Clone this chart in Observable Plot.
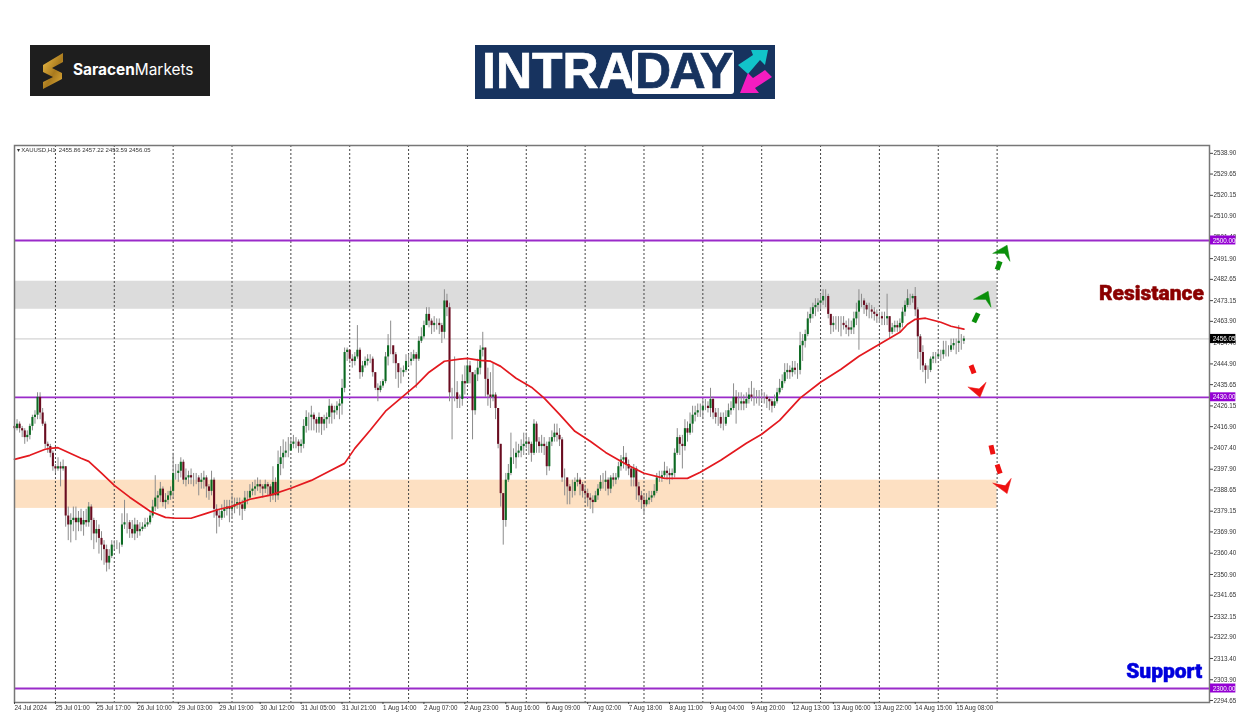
<!DOCTYPE html>
<html>
<head>
<meta charset="utf-8">
<script src="https://cdn.jsdelivr.net/npm/d3@7"></script>
<script src="https://cdn.jsdelivr.net/npm/@observablehq/plot@0.6"></script>
<style>
html,body{margin:0;padding:0;background:#fff;width:1250px;height:716px;overflow:hidden}
#chart{position:absolute;left:0;top:0;filter:blur(.3px)}
.logo{position:absolute;box-sizing:border-box}
#saracen{left:30px;top:45px;width:180px;height:51px;background:#1e1e1e;color:#fff;font:400 15.4px Inter,Lato,sans-serif}
#saracen span{position:absolute;left:43px;top:15px;white-space:nowrap}
#saracen b{font-weight:700}
#saracen svg{position:absolute;left:0;top:0}
#intraday{left:475px;top:45px;width:300px;height:54px;background:#17335f}
#intraday .a,#intraday .b{position:absolute;font:700 50px/54px "Liberation Sans",Arimo,sans-serif;white-space:nowrap;-webkit-text-stroke:.7px currentColor}
#intraday .a{left:7px;top:-1px;color:#fff}
#intraday .box{position:absolute;left:157px;top:5px;width:102px;height:44px;background:#fff;border-radius:3px}
#intraday .b{left:3px;top:-6px;color:#17335f;letter-spacing:-1.5px}
#intraday svg{position:absolute;left:0;top:0}
</style>
</head>
<body>
<div id="chart"></div>
<div id="saracen" class="logo">
  <svg width="180" height="51"><defs><linearGradient id="g" x1="0" y1="0" x2="1" y2="1"><stop offset="0" stop-color="#f0c14a"/><stop offset=".55" stop-color="#a97a1e"/><stop offset="1" stop-color="#e6b23c"/></linearGradient></defs>
  <path d="M33 8 L13 20 L13 27 L23 32 L13 37 L13 44 L32 34 L32 28 L22 23 L33 17 Z" fill="url(#g)"/></svg>
  <span><b>Saracen</b>Markets</span>
</div>
<div id="intraday" class="logo">
  <div class="a">INTRA</div>
  <div class="box"><div class="b">DAY</div></div>
  <svg width="300" height="54">
    <polygon points="263,20 278,10 276,5 293,5 290,20 285,15 273,29" fill="#12c3c9"/>
    <polygon points="297,32 290,25 278,33 273,28 265,48 284,48 280,43" fill="#f31cc0"/>
  </svg>
</div>
<script>
// ---- XAUUSD H1 candles, read bar by bar (one row per trading day)
const closes = [
2416,2418,2416,2415,2412,2413,2417,2421,2422,2430,2423,2418,2409,2408,2405,2399,
2398,2399,2398,2399,2377,2373,2375,2376,2374,2376,2373,2375,2374,2381,2375,2369,2371,2367,2364,2362,2356,2359,2364,
2364,2364,2364,2373,2374,2374,2371,2369,2373,2370,2371,2372,2373,2374,2377,2381,2385,2386,2389,2383,2384,2386,2388,
2396,2396,2397,2401,2393,2394,2395,2394,2394,2394,2392,2393,2394,2390,2388,2393,2380,2377,2376,2379,2380,2381,2380,
2381,2382,2383,2382,2380,2385,2385,2388,2389,2390,2391,2390,2389,2391,2390,2386,2392,2386,2400,2403,2405,2406,2406,
2409,2410,2410,2408,2409,2417,2421,2421,2422,2420,2418,2421,2418,2420,2421,2426,2423,2424,2426,2427,2434,2450,2451,
2447,2446,2448,2451,2441,2444,2446,2447,2447,2441,2434,2433,2435,2437,2448,2453,2453,2449,2445,2441,2441,2442,2446,
2446,2447,2449,2447,2455,2457,2462,2467,2464,2462,2463,2463,2462,2459,2473,2470,2432,2432,2432,2429,2429,2437,2436,
2444,2441,2424,2440,2443,2451,2452,2438,2431,2430,2431,2425,2409,2387,2375,2393,2396,2403,2403,2405,2406,2408,2409,
2410,2409,2405,2418,2410,2408,2409,2408,2399,2410,2412,2414,2413,2411,2394,2394,2390,2388,2388,2392,2393,2391,2388,
2387,2385,2384,2383,2386,2389,2392,2392,2393,2389,2394,2393,2394,2399,2402,2403,2400,2398,2394,2398,2390,2386,2384,
2382,2384,2385,2386,2388,2394,2394,2395,2397,2396,2395,2396,2405,2412,2409,2408,2416,2414,2418,2422,2423,2424,2424,
2426,2426,2425,2429,2423,2421,2421,2418,2418,2421,2424,2425,2430,2427,2427,2428,2427,2429,2431,2430,2430,2430,2430,
2430,2430,2429,2428,2426,2428,2432,2434,2437,2441,2442,2441,2443,2442,2442,2453,2455,2458,2465,2467,2470,2471,2472,
2473,2475,2475,2467,2462,2463,2463,2463,2463,2462,2461,2460,2461,2465,2468,2473,2473,2471,2469,2469,2468,2467,2466,
2466,2465,2465,2466,2459,2461,2462,2461,2463,2468,2471,2474,2474,2475,2469,2457,2450,2444,2442,2442,2447,2448,2448,
2449,2449,2451,2451,2451,2453,2454,2454,2455,2455,2456.05];
const highs = [
2419,2420,2419,2417,2416,2415,2418,2422,2424,2432,2432,2425,2419,2410,2409,2406,
2400,2403,2401,2402,2399,2381,2378,2381,2381,2379,2380,2379,2380,2383,2382,2376,2375,2373,2370,2366,2364,2362,2366,
2366,2366,2365,2378,2384,2378,2375,2375,2376,2375,2374,2374,2376,2376,2379,2384,2395,2388,2392,2390,2387,2388,2390,
2405,2400,2400,2403,2402,2398,2397,2398,2396,2396,2395,2396,2397,2395,2391,2397,2394,2382,2380,2382,2384,2384,2384,
2386,2385,2385,2385,2384,2388,2388,2391,2392,2393,2394,2393,2391,2393,2392,2391,2399,2394,2406,2408,2411,2410,2412,
2412,2413,2412,2411,2411,2420,2424,2423,2426,2423,2421,2423,2421,2422,2423,2429,2427,2426,2428,2429,2438,2452,2452,
2451,2449,2450,2462,2452,2446,2448,2449,2449,2448,2441,2436,2437,2438,2450,2458,2464,2452,2450,2445,2443,2444,2449,
2449,2450,2451,2450,2457,2461,2464,2470,2470,2465,2466,2465,2465,2463,2478,2476,2472,2434,2448,2437,2431,2440,2444,
2447,2446,2441,2442,2447,2453,2459,2452,2443,2441,2445,2432,2425,2409,2387,2396,2400,2414,2407,2410,2409,2411,2414,
2414,2412,2410,2420,2419,2412,2413,2412,2410,2412,2415,2418,2418,2416,2412,2398,2394,2391,2393,2394,2396,2394,2392,
2390,2389,2387,2386,2388,2391,2395,2396,2397,2394,2395,2396,2396,2401,2404,2408,2405,2402,2399,2400,2399,2392,2388,
2386,2387,2388,2388,2391,2396,2397,2397,2401,2399,2398,2398,2407,2416,2413,2413,2420,2419,2423,2426,2426,2427,2427,
2429,2429,2428,2434,2430,2425,2425,2423,2423,2424,2427,2428,2436,2433,2432,2432,2431,2432,2434,2437,2434,2433,2433,
2433,2432,2431,2430,2429,2431,2434,2438,2440,2445,2445,2444,2446,2446,2445,2459,2458,2460,2468,2470,2472,2474,2474,
2476,2478,2478,2476,2467,2466,2466,2466,2466,2466,2464,2465,2464,2468,2472,2478,2476,2474,2472,2472,2471,2470,2469,
2468,2468,2468,2476,2466,2463,2464,2464,2465,2470,2473,2478,2476,2476,2479,2470,2458,2453,2445,2444,2448,2450,2450,
2451,2451,2455,2455,2453,2456,2456,2456,2462,2458,2457.22];
const lows = [
2413,2415,2414,2412,2409,2410,2411,2415,2418,2420,2420,2417,2407,2405,2403,2397,
2396,2397,2390,2397,2372,2366,2365,2370,2366,2370,2370,2368,2372,2372,2366,2362,2365,2360,2357,2355,2352,2353,2358,
2362,2362,2360,2363,2371,2369,2367,2367,2366,2367,2368,2370,2371,2372,2373,2376,2379,2380,2383,2381,2380,2382,2384,
2385,2393,2392,2394,2391,2390,2391,2391,2390,2391,2386,2389,2389,2385,2384,2386,2376,2369,2372,2375,2376,2377,2374,
2376,2378,2380,2377,2375,2379,2382,2384,2386,2386,2388,2387,2385,2387,2386,2383,2384,2383,2384,2395,2398,2403,2403,
2407,2407,2407,2405,2405,2407,2414,2415,2415,2415,2414,2414,2413,2415,2416,2418,2418,2420,2422,2420,2422,2432,2446,
2445,2443,2444,2447,2438,2439,2443,2444,2445,2439,2433,2428,2432,2434,2436,2444,2449,2445,2438,2434,2436,2439,2441,
2444,2444,2446,2434,2446,2454,2456,2463,2461,2458,2459,2460,2458,2454,2456,2466,2428,2411,2428,2425,2425,2426,2431,
2439,2436,2411,2422,2437,2440,2448,2430,2426,2425,2428,2420,2407,2381,2364,2372,2392,2395,2400,2398,2403,2403,2404,
2407,2404,2401,2404,2405,2405,2405,2404,2395,2397,2408,2410,2410,2408,2392,2386,2382,2382,2385,2386,2390,2386,2385,
2383,2381,2380,2378,2383,2384,2388,2389,2388,2386,2387,2390,2391,2393,2397,2398,2397,2395,2390,2390,2384,2383,2380,
2378,2381,2382,2383,2385,2387,2392,2392,2394,2393,2391,2393,2394,2404,2404,2398,2406,2410,2413,2414,2419,2421,2421,
2420,2424,2423,2421,2420,2418,2417,2416,2415,2417,2421,2422,2424,2418,2424,2424,2424,2425,2427,2428,2426,2427,2426,
2428,2427,2425,2424,2423,2425,2427,2431,2433,2436,2438,2438,2439,2440,2438,2440,2446,2452,2457,2463,2465,2466,2468,
2469,2471,2470,2465,2458,2459,2460,2459,2457,2460,2458,2457,2458,2458,2462,2451,2470,2467,2466,2465,2465,2464,2463,
2463,2462,2462,2462,2456,2458,2459,2459,2459,2461,2466,2470,2471,2472,2466,2447,2442,2441,2436,2438,2441,2445,2445,
2447,2446,2447,2448,2448,2450,2451,2449,2450,2451,2453.59];
const firstOpen = 2417;

// ---- moving average: [bar, price]
const maBars = [0,6,12,14,17,20,26,29,34,39,45,53,59,63,69,75,80,85,92,100,108,116,123,129,133,139,145,151,157,162,168,174,177,182,186,190,196,202,207,213,219,225,231,239,246,254,263,268,276,286,292,299,307,315,323,330,338,346,349,352,356,362,366,371];
const maValues = [2402.3,2404.1,2406.8,2407.2,2407.5,2405.9,2402.8,2401.4,2396.1,2390.7,2385.4,2379.1,2376.4,2376,2376,2378.2,2380,2381.3,2384.5,2386.3,2389.4,2392.9,2397,2400.5,2407.2,2415.3,2423.8,2429.6,2435.4,2441.2,2446.1,2447,2447.4,2446.5,2446.1,2443.8,2438.5,2434.5,2429.6,2422.4,2414.8,2410.4,2405.4,2400.1,2396.1,2393.8,2393.8,2396.5,2401.9,2409.5,2413.5,2419.7,2429.6,2436.7,2442.5,2448.3,2453.7,2459,2462.6,2464.8,2465.3,2463.5,2461.7,2460.4];

// ---- horizontal levels and zones
const levels = [2500, 2430, 2300];
const lastPrice = 2456.05;
const zones = [
  {from: 2469.3, to: 2481.8, color: "#dcdcdc"},
  {from: 2380.4, to: 2393.0, color: "#fde0c2"}
];
const zoneEndBar = 384;
const gridBars = [16,39,62,85,108,131,154,177,200,223,246,269,292,315,338,361,384];

// ---- axes
const yTicks = [2538.90,2529.65,2520.15,2510.90,2501.40,2491.90,2482.65,2473.15,2463.90,2454.40,2444.90,2435.65,2426.15,2416.90,2407.40,2397.90,2388.65,2379.15,2369.90,2360.40,2350.90,2341.65,2332.15,2322.90,2313.40,2303.90,2294.65];
const xTickBars = [0,16,32,48,64,80,96,112,128,144,160,176,192,208,224,240,256,272,288,304,320,336,352,368];
const xTickLabels = ["24 Jul 2024","25 Jul 01:00","25 Jul 17:00","26 Jul 10:00","29 Jul 03:00","29 Jul 19:00","30 Jul 12:00","31 Jul 05:00","31 Jul 21:00","1 Aug 14:00","2 Aug 07:00","2 Aug 23:00","5 Aug 16:00","6 Aug 09:00","7 Aug 02:00","7 Aug 18:00","8 Aug 11:00","9 Aug 04:00","9 Aug 20:00","12 Aug 13:00","13 Aug 06:00","13 Aug 22:00","14 Aug 15:00","15 Aug 08:00"];

// ---- drawn scenario arrows
const dashes = [
  {x1:374.9,y1:2463.5,x2:376.6,y2:2467.5,c:"#0a8f0a"},
  {x1:384.0,y1:2487.0,x2:385.2,y2:2490.7,c:"#0a8f0a"},
  {x1:373.8,y1:2444.3,x2:375.0,y2:2440.7,c:"#ee1111"},
  {x1:381.6,y1:2408.6,x2:382.4,y2:2404.6,c:"#ee1111"},
  {x1:384.0,y1:2400.0,x2:385.2,y2:2396.0,c:"#ee1111"}
];
const greenHeads = [
  [[374.9,2473.8],[380.5,2477.3],[381.6,2470.2],[379.6,2473.6]],
  [[382.4,2494.3],[387.9,2497.9],[389.0,2490.7],[387.0,2494.2]]
];
const redHeads = [
  [[372.7,2434.5],[377.3,2430.0],[379.7,2436.7],[377.0,2433.8]],
  [[382.4,2391.6],[387.9,2387.0],[389.5,2393.8],[387.2,2390.6]]
];
const notes = [
  {bar:444.3, price:2476.4, label:"Resistance", color:"#8b0000"},
  {bar:449.3, price:2307.6, label:"Support", color:"#0000dd"}
];
const header = "\u25BE XAUUSD,H1  2455.86 2457.22 2453.59 2456.05";

// ---- tables
const bars = closes.map((c,i)=>({i, open:i?closes[i-1]:firstOpen, close:c, high:highs[i], low:lows[i]}));
const ma = maBars.map((b,i)=>({b, v:maValues[i]}));
const headRows = hs => hs.flatMap((h,id)=>h.map(([x,y])=>({id,x,y})));
const tickFont = '"Liberation Sans",Arial,sans-serif';
const labelBarFrom = 467.4, labelBarTo = 477.3;
const tagRows = levels.map(v=>({v,bg:"#9400d3"})).concat([{v:lastPrice,bg:"#000000"}]);

const chart = Plot.plot({
  width:1250, height:716,
  marginTop:145, marginBottom:14, marginLeft:14, marginRight:41,
  style:{background:"transparent", overflow:"visible"},
  x:{type:"linear", domain:[0,467], range:[14,1209]},
  y:{domain:[2293.75,2542.4], range:[702,145]},
  marks:[
    Plot.rectY(zones,{x1:0,x2:zoneEndBar,y1:"from",y2:"to",fill:d=>d.color}),
    Plot.ruleY([lastPrice],{stroke:"#c8c8c8",strokeWidth:1}),
    Plot.ruleX(gridBars,{stroke:"#444",strokeWidth:1,strokeDasharray:"2,2"}),
    Plot.ruleY(levels,{stroke:"#9a2bc9",strokeWidth:1.8}),
    Plot.ruleX(bars,{x:"i",y1:"low",y2:"high",stroke:"#8c8c8c",strokeWidth:1}),
    Plot.ruleX(bars,{x:"i",y1:"open",y2:"close",stroke:d=>d.close>=d.open?"#0c6a22":"#6a0c20",strokeWidth:2.1,strokeLinecap:"butt"}),
    Plot.line(ma,{x:"b",y:"v",stroke:"#e3191f",strokeWidth:1.7,curve:"linear"}),
    Plot.link(dashes,{x1:"x1",y1:"y1",x2:"x2",y2:"y2",stroke:d=>d.c,strokeWidth:5,strokeLinecap:"butt"}),
    Plot.line(headRows(greenHeads),{x:"x",y:"y",z:"id",fill:"#0a8f0a",stroke:"#0a8f0a",strokeWidth:.5,curve:"linear-closed"}),
    Plot.line(headRows(redHeads),{x:"x",y:"y",z:"id",fill:"#ee1111",stroke:"#ee1111",strokeWidth:.5,curve:"linear-closed"}),
    Plot.frame({stroke:"#777",strokeWidth:1.5}),
    Plot.axisY({anchor:"right",ticks:yTicks,tickFormat:d=>d.toFixed(2),tickSize:3,tickPadding:1,fontSize:6.3,fontFamily:tickFont,label:null,stroke:"#444",fill:"#333"}),
    Plot.axisX({anchor:"bottom",ticks:xTickBars,tickFormat:d=>xTickLabels[xTickBars.indexOf(d)],tickSize:2,tickPadding:1,textAnchor:"start",fontSize:6.3,fontFamily:tickFont,label:null,stroke:"#444",fill:"#333"}),
    Plot.rect(tagRows,{x1:labelBarFrom,x2:labelBarTo,y1:d=>d.v-2,y2:d=>d.v+2,fill:d=>d.bg}),
    Plot.text(tagRows,{x:labelBarFrom+0.9,y:"v",text:d=>d.v.toFixed(2),fill:"#fff",fontSize:6.3,fontFamily:tickFont,textAnchor:"start"}),
    Plot.text(notes,{x:"bar",y:"price",text:"label",fill:d=>d.color,stroke:d=>d.color,strokeWidth:.5,fontSize:21,fontWeight:900,fontFamily:"Roboto,sans-serif"}),
    Plot.text([header],{frameAnchor:"top-left",dx:2,dy:2,text:d=>d,fontSize:6,fontFamily:tickFont,fill:"#333"})
  ]
});
document.getElementById("chart").appendChild(chart);
</script>
</body>
</html>
